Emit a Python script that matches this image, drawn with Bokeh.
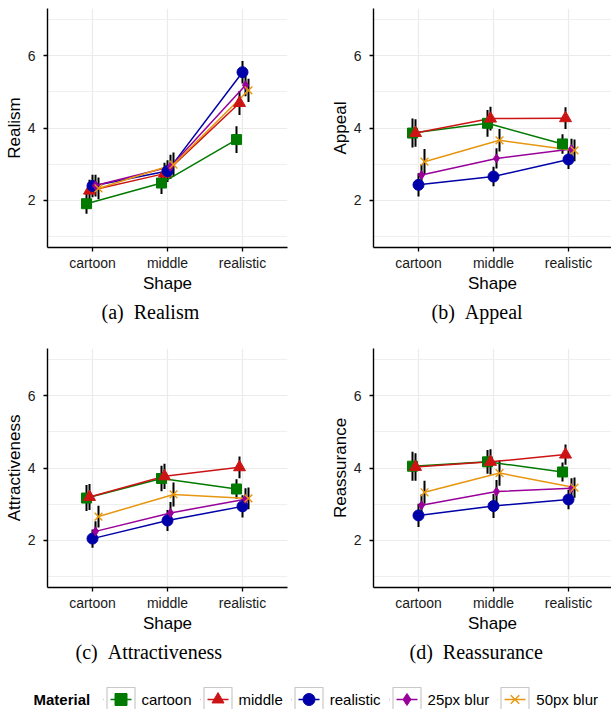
from bokeh.plotting import figure
from bokeh.models import Range1d, FixedTicker, Title, Legend, LegendItem, Label
from bokeh.layouts import column, row
from bokeh.embed import file_html
from bokeh.resources import INLINE

# ---------------- data ----------------
shapes = ["cartoon", "middle", "realistic"]
materials = ["cartoon", "middle", "realistic", "25px blur", "50px blur"]

# means per material (rows) across shapes (columns)
realism_mean = [
    [1.91, 2.48, 3.68],
    [2.27, 2.74, 4.69],
    [2.40, 2.81, 5.54],
    [2.41, 2.93, 5.18],
    [2.33, 2.99, 5.04],
]
realism_se = [
    [0.28, 0.30, 0.37],
    [0.30, 0.30, 0.33],
    [0.31, 0.30, 0.31],
    [0.30, 0.33, 0.30],
    [0.30, 0.33, 0.32],
]
appeal_mean = [
    [3.86, 4.13, 3.56],
    [3.86, 4.26, 4.27],
    [2.43, 2.66, 3.13],
    [2.70, 3.16, 3.42],
    [3.07, 3.66, 3.38],
]
appeal_se = [
    [0.40, 0.37, 0.27],
    [0.38, 0.33, 0.30],
    [0.32, 0.27, 0.26],
    [0.30, 0.28, 0.28],
    [0.35, 0.31, 0.30],
]
attract_mean = [
    [3.17, 3.71, 3.42],
    [3.20, 3.77, 4.02],
    [2.05, 2.55, 2.94],
    [2.25, 2.76, 3.14],
    [2.66, 3.27, 3.16],
]
attract_se = [
    [0.36, 0.35, 0.27],
    [0.36, 0.35, 0.30],
    [0.25, 0.29, 0.31],
    [0.28, 0.30, 0.30],
    [0.30, 0.33, 0.30],
]
reassure_mean = [
    [4.05, 4.17, 3.89],
    [4.03, 4.17, 4.37],
    [2.69, 2.95, 3.13],
    [2.97, 3.35, 3.44],
    [3.33, 3.86, 3.46],
]
reassure_se = [
    [0.40, 0.33, 0.26],
    [0.38, 0.35, 0.28],
    [0.32, 0.33, 0.27],
    [0.30, 0.32, 0.28],
    [0.32, 0.35, 0.28],
]

# ---------------- style ----------------
colors = ["#007a00", "#cc1414", "#0000a8", "#990099", "#e6960f"]
markers = ["square", "triangle", "circle", "diamond", "x"]
msizes = [10, 12, 11, 9, 11]
dodge = [-0.08, -0.04, 0.0, 0.04, 0.08]
SANS = "Liberation Sans"
SERIF = "Liberation Serif"
NBSP2 = "\u00a0\u00a0"


def make_panel(ylabel, caption, cap_offset, means, ses, bl, br, fw, x_end):
    p = figure(frame_width=fw, frame_height=239,
               x_range=Range1d(0.4, x_end), y_range=Range1d(0.7, 7.3),
               output_backend="svg", toolbar_location=None,
               min_border_left=bl, min_border_right=br,
               min_border_top=8, min_border_bottom=93)
    p.outline_line_color = None
    p.background_fill_color = "white"
    p.border_fill_color = "white"

    p.xaxis.ticker = FixedTicker(ticks=[1, 2, 3])
    p.xaxis.major_label_overrides = {i + 1: s for i, s in enumerate(shapes)}
    p.yaxis.ticker = FixedTicker(ticks=[2, 4, 6], minor_ticks=[1, 3, 5, 7])
    for ax in (p.xaxis, p.yaxis):
        ax.axis_line_color = "black"
        ax.axis_line_width = 1.4
        ax.major_tick_line_color = "black"
        ax.major_tick_line_width = 1.3
        ax.major_tick_in = 0
        ax.major_tick_out = 4
        ax.minor_tick_line_color = None
        ax.major_label_text_font = SANS
        ax.major_label_text_font_size = "14px"
        ax.major_label_text_color = "#1a1a1a"
        ax.axis_label_text_font = SANS
        ax.axis_label_text_font_size = "17px"
        ax.axis_label_text_font_style = "normal"
        ax.axis_label_text_color = "black"
    p.xaxis.axis_label = "Shape"
    p.yaxis.axis_label = ylabel
    p.xaxis.major_label_standoff = 3
    p.xaxis.axis_label_standoff = 0
    p.yaxis.major_label_standoff = 8
    p.yaxis.axis_label_standoff = 1

    p.xgrid.grid_line_color = "#ebebeb"
    p.xgrid.grid_line_width = 1.2
    p.ygrid.grid_line_color = "#ebebeb"
    p.ygrid.grid_line_width = 1.2
    p.ygrid.minor_grid_line_color = "#efefef"
    p.ygrid.minor_grid_line_width = 1.0

    xs_all = []
    for i in range(len(materials)):
        xs_all.append([k + 1 + dodge[i] for k in range(len(shapes))])

    for i in range(len(materials)):
        lo = [m - s for m, s in zip(means[i], ses[i])]
        hi = [m + s for m, s in zip(means[i], ses[i])]
        p.segment(xs_all[i], lo, xs_all[i], hi, line_color="black", line_width=2)
    for i in range(len(materials)):
        p.line(xs_all[i], means[i], line_color=colors[i], line_width=1.5)
    for i in range(len(materials)):
        p.scatter(xs_all[i], means[i], marker=markers[i], size=msizes[i],
                  fill_color=colors[i], line_color=colors[i],
                  line_width=1.4 if markers[i] == "x" else 1)

    t = Title(text=caption, align="left", offset=cap_offset,
              text_font=SERIF, text_font_size="20px", text_font_style="normal",
              text_color="black", standoff=6)
    p.add_layout(t, "below")
    return p


XA_END = 3.6
XB_END = 0.4 + 238 / 75.0

pa = make_panel("Realism", "(a)" + NBSP2 + "Realism", 54, realism_mean, realism_se, 47, 18, 240, XA_END)
pb = make_panel("Appeal", "(b)" + NBSP2 + "Appeal", 58, appeal_mean, appeal_se, 68, 0, 238, XB_END)
pc = make_panel("Attractiveness", "(c)" + NBSP2 + "Attractiveness", 28, attract_mean, attract_se, 47, 18, 240, XA_END)
pd = make_panel("Reassurance", "(d)" + NBSP2 + "Reassurance", 36, reassure_mean, reassure_se, 68, 0, 238, XB_END)

# ---------------- legend strip ----------------
leg = figure(width=611, height=29, x_range=Range1d(0, 1), y_range=Range1d(0, 1),
             output_backend="svg", toolbar_location=None, min_border=0,
             x_axis_location=None, y_axis_location=None)
leg.outline_line_color = None
leg.grid.grid_line_color = None

NAN = [float("nan")]
items = []
for i, name in enumerate(materials):
    r_fill = leg.rect(x=NAN, y=NAN, width=1, height=1, fill_color="white",
                      line_color=None)
    r_line = leg.line(x=NAN, y=NAN, line_color=colors[i], line_width=1.5)
    r_mask = leg.rect(x=NAN, y=NAN, width=1, height=1, fill_color=None,
                      line_color="white", line_width=7)
    r_box = leg.rect(x=NAN, y=NAN, width=1, height=1, fill_color=None,
                     line_color="#c8c8c8", line_width=1.2)
    r_pt = leg.scatter(x=NAN, y=NAN, marker=markers[i], fill_color=colors[i],
                       line_color=colors[i], line_width=1.4 if markers[i] == "x" else 1)
    items.append(LegendItem(label=name, renderers=[r_fill, r_line, r_mask, r_box, r_pt]))

legend = Legend(items=items, orientation="horizontal", location=(102.5, -5),
                glyph_width=35, glyph_height=30, label_standoff=4, spacing=8,
                padding=0, margin=0, border_line_color=None, background_fill_alpha=0,
                label_text_font=SANS, label_text_font_size="15px",
                label_text_color="black")
leg.add_layout(legend)
leg.add_layout(Label(x=33, y=10, x_units="screen", y_units="screen", text="Material",
                     text_font=SANS, text_font_style="bold", text_font_size="15px",
                     text_baseline="middle", text_color="black"))

layout = column(row(pa, pb), row(pc, pd), leg)
open("out.html", "w").write(file_html(layout, INLINE))
